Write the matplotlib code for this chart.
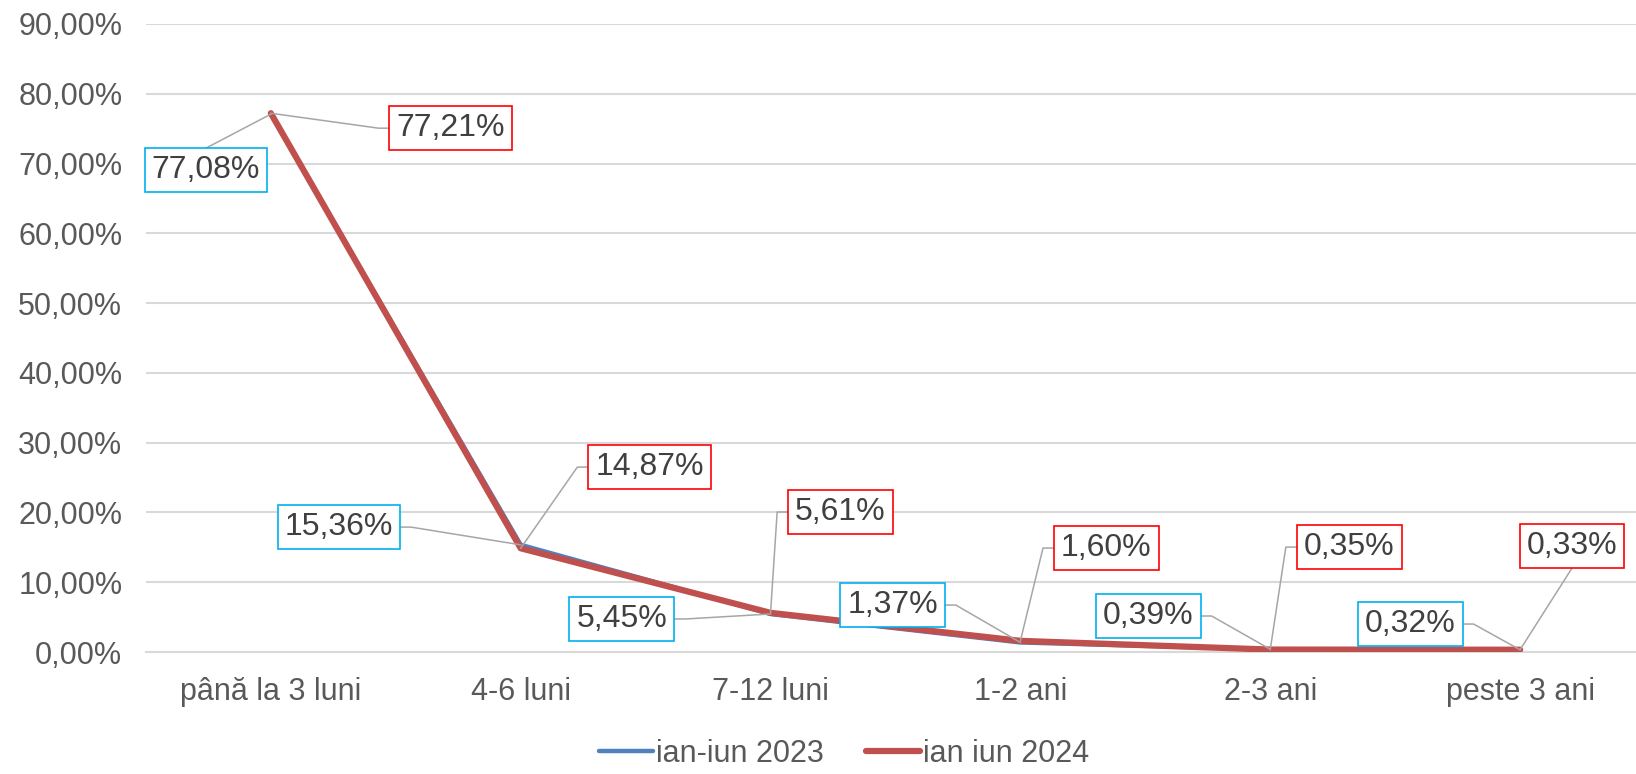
import matplotlib
matplotlib.use('Agg')
import matplotlib.pyplot as plt
from matplotlib.lines import Line2D

plt.rcParams['font.family'] = ['Liberation Sans', 'DejaVu Sans']

# data
categories = ['până la 3 luni', '4-6 luni', '7-12 luni', '1-2 ani', '2-3 ani', 'peste 3 ani']
vals_2023 = [77.08, 15.36, 5.45, 1.37, 0.39, 0.32]
vals_2024 = [77.21, 14.87, 5.61, 1.60, 0.35, 0.33]
labels_2023 = ['77,08%', '15,36%', '5,45%', '1,37%', '0,39%', '0,32%']
labels_2024 = ['77,21%', '14,87%', '5,61%', '1,60%', '0,35%', '0,33%']
series_names = ['ian-iun 2023', 'ian iun 2024']

# label placement (data coords) and which box side the leader line leaves from
pos_2023 = [(-0.26, 69.05, 'top'), (0.272, 17.9, 'right'), (1.404, 4.73, 'right'),
            (2.488, 6.73, 'right'), (3.512, 5.16, 'right'), (4.56, 4.01, 'right')]
pos_2024 = [(0.72, 75.07, 'left'), (1.516, 26.5, 'left'), (2.28, 20.06, 'left'),
            (3.344, 14.9, 'left'), (4.316, 15.04, 'left'), (5.208, 15.19, 'bottom')]

blue = '#4F81BD'
red = '#C0504D'
grid_c = '#D9D9D9'
lead_c = '#A6A6A6'

fig = plt.figure(figsize=(16.36, 7.74), dpi=100)
ax = fig.add_axes([0.0892, 0.1576, 0.9163, 0.8114])

x = list(range(len(categories)))
ax.plot(x, vals_2023, color=blue, lw=3.2, solid_capstyle='round', label=series_names[0], zorder=3)
ax.plot(x, vals_2024, color=red, lw=4.5, solid_capstyle='round', label=series_names[1], zorder=4)

ax.set_xlim(-0.5, 5.5)
ax.set_ylim(0, 90)
ax.set_yticks(range(0, 91, 10))
ax.set_yticklabels([f'{v},00%' for v in range(0, 91, 10)])
ax.set_xticks(x)
ax.set_xticklabels(categories)
ax.tick_params(axis='both', length=0, labelsize=22, colors='#595959')
ax.tick_params(axis='y', pad=17)
ax.tick_params(axis='x', pad=18)
ax.grid(axis='y', color=grid_c, lw=1.5)
ax.set_axisbelow(True)
for s in ['top', 'right', 'left']:
    ax.spines[s].set_visible(False)
ax.spines['bottom'].set_color(grid_c)
ax.spines['bottom'].set_linewidth(1.5)

texts = []
for vals, labs, pos, ec in [(vals_2023, labels_2023, pos_2023, '#00B0F0'),
                            (vals_2024, labels_2024, pos_2024, '#FF0000')]:
    for i, (v, lab, (lx, ly, side)) in enumerate(zip(vals, labs, pos)):
        t = ax.text(lx, ly, lab, fontsize=23, color='#404040', ha='center', va='center',
                    bbox=dict(boxstyle='square,pad=0.22', fc='white', ec=ec, lw=1.2), zorder=6)
        texts.append((t, i, v, side))

fig.canvas.draw()
r = fig.canvas.get_renderer()
inv = ax.transData.inverted()
for t, i, v, side in texts:
    bb = t.get_bbox_patch().get_window_extent(r)
    px, py = ax.transData.transform((i, v))
    ym = (bb.y0 + bb.y1) / 2
    xm = (bb.x0 + bb.x1) / 2
    if side == 'right':
        pts = [(bb.x1, ym), (bb.x1 + 11, ym), (px, py)]
    elif side == 'left':
        pts = [(bb.x0, ym), (bb.x0 - 11, ym), (px, py)]
    elif side == 'top':
        pts = [(xm, bb.y1), (px, py)]
    else:
        pts = [(xm, bb.y0), (px, py)]
    dpts = inv.transform(pts)
    ax.add_line(Line2D(dpts[:, 0], dpts[:, 1], color=lead_c, lw=1.1, zorder=5))

fig.legend(loc='center', bbox_to_anchor=(0.516, 0.026), ncol=2, frameon=False,
           fontsize=22, handlelength=1.77, handletextpad=0.1, columnspacing=1.37,
           labelcolor='#595959', borderpad=0.1)

fig.savefig('out.png', dpi=100)
